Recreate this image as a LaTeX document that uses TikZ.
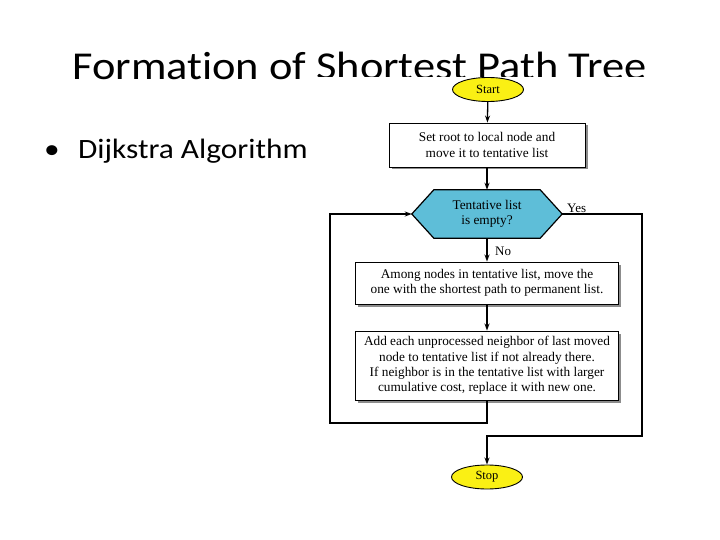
\documentclass[tikz,border=0pt]{standalone}
\usepackage{fontspec}
\setmainfont{Liberation Serif}
\newfontfamily\titlefont[Ligatures=NoCommon]{Carlito}
\usetikzlibrary{arrows.meta,shadows,shapes.geometric}
\definecolor{hexblue}{RGB}{94,190,216}
\definecolor{termyellow}{RGB}{250,240,20}
\begin{document}
\begin{tikzpicture}[x=1pt,y=-1pt,
  proc/.style={draw, fill=white, line width=0.9pt, align=center, inner sep=0pt,
    font=\fontsize{13.3}{15.3}\selectfont,
    drop shadow={shadow xshift=2.5pt, shadow yshift=-2.5pt, fill=black!45, opacity=1}},
  term/.style={ellipse, draw, fill=termyellow, line width=0.9pt, inner sep=0pt,
    minimum width=71pt, minimum height=24pt, font=\fontsize{12.5}{14}\selectfont},
  conn/.style={line width=1.3pt, -{Stealth[length=7pt,width=5pt]}},
  lbl/.style={font=\fontsize{13}{14}\selectfont, inner sep=0pt}
]
\useasboundingbox (0,0) rectangle (720,540);
\fill[white] (0,0) rectangle (720,540);

\node[anchor=base, font=\titlefont\fontsize{39.5}{44}\selectfont, inner sep=0pt] (title) at (359.5,79.5)
  {\scalebox{1.125}[1]{Formation of Shortest Path Tree}};
\node[anchor=base west, font=\titlefont\fontsize{28}{32}\selectfont, inner sep=0pt] (bullet) at (44,159)
  {\scalebox{1.12}[1]{•}};
\node[anchor=base west, font=\titlefont\fontsize{28}{32}\selectfont, inner sep=0pt] (dij) at (78,159)
  {\scalebox{1.12}[1]{Dijkstra Algorithm}};

% white background of the flowchart picture, covering the title's lower edge
\fill[white] (314,77) rectangle (646,500);

\node[term] (start) at (488,89.5) {Start};
\node[proc, minimum width=196pt, minimum height=44pt] (b1) at (487,145)
  {Set root to local node and\\move it to tentative list};
\node[inner sep=0pt, minimum width=150pt, minimum height=48pt] (hex) at (487,214) {};
\fill[hexblue, draw=black, line width=1.2pt]
  (hex.west) -- ([xshift=22pt]hex.north west) -- ([xshift=-22pt]hex.north east)
  -- (hex.east) -- ([xshift=-22pt]hex.south east) -- ([xshift=22pt]hex.south west) -- cycle;
\node[align=center, font=\fontsize{13.3}{15.3}\selectfont, inner sep=0pt] (hext) at (hex.center) {Tentative list\\is empty?};
\node[proc, minimum width=263pt, minimum height=42pt] (b2) at (487,283)
  {Among nodes in tentative list, move the\\one with the shortest path to permanent list.};
\node[proc, minimum width=263pt, minimum height=69pt] (b3) at (487,365.5)
  {Add each unprocessed neighbor of last moved\\node to tentative list if not already there.\\If neighbor is in the tentative list with larger\\cumulative cost, replace it with new one.};
\node[term] (stop) at (487,477) {Stop};

\coordinate (lb) at (330,423);
\coordinate (rb) at (642,436);

\draw[conn] (start) -- (b1);
\draw[conn] (b1) -- (hex.north);
\draw[conn] (hex.south) -- (b2);
\draw[conn] (b2) -- (b3);
\draw[conn] (b3.south) |- (lb) |- (hex.west);
\draw[conn] (hex.east) -| (rb) -| (stop.north);

\node[lbl, anchor=base west] (yes) at (567,212) {Yes};
\node[lbl, anchor=base west] (no) at (495,255) {No};
\end{tikzpicture}
\end{document}
